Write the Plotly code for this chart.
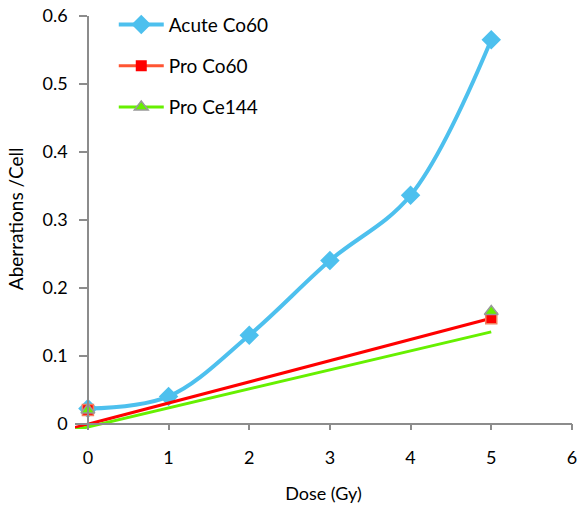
import numpy as np
import plotly.graph_objects as go

dose = [0, 1, 2, 3, 4, 5]
acute_co60 = [0.022, 0.040, 0.130, 0.240, 0.336, 0.565]

pro_dose = [0, 5]
pro_co60 = [0.020, 0.155]
pro_ce144 = [0.020, 0.165]

# linear trendlines (slope, intercept) and their extent
trend_x = [-0.16, 5]
co60_trend = (0.0312, -0.0010)
ce144_trend = (0.0280, -0.0050)

x_ticks = [0, 1, 2, 3, 4, 5, 6]
y_ticks = [0, 0.1, 0.2, 0.3, 0.4, 0.5, 0.6]
y_tick_text = ["0", "0.1", "0.2", "0.3", "0.4", "0.5", "0.6"]

BLUE = "#4DC0EE"
RED = "#FF0000"
ORANGE = "#FF5533"
GREEN = "#66F000"
FONT = "Lato"
FS = 18

X_RANGE = [-0.16, 6.001]
Y_RANGE = [-0.008, 0.6]

tx = np.array(trend_x)
fig = go.Figure()

fig.add_trace(go.Scatter(
    x=dose, y=acute_co60, mode="lines+markers", name="Acute Co60",
    line=dict(color=BLUE, width=4, shape="spline", smoothing=1.0),
    marker=dict(symbol="diamond", size=15, color=BLUE),
    legendgroup="a"))

fig.add_trace(go.Scatter(
    x=tx, y=co60_trend[0] * tx + co60_trend[1], mode="lines",
    line=dict(color=RED, width=3), showlegend=False, hoverinfo="skip"))
fig.add_trace(go.Scatter(
    x=tx, y=ce144_trend[0] * tx + ce144_trend[1], mode="lines",
    line=dict(color=GREEN, width=3), showlegend=False, hoverinfo="skip"))

fig.add_trace(go.Scatter(
    x=pro_dose, y=pro_co60, mode="markers", name="Pro Co60",
    marker=dict(symbol="square", size=11, color=RED, line=dict(color="#F08060", width=1.5)),
    showlegend=False))
fig.add_trace(go.Scatter(
    x=pro_dose, y=pro_ce144, mode="markers", name="Pro Ce144",
    marker=dict(symbol="triangle-up", size=12, color=GREEN, line=dict(color="#999999", width=1.5)),
    showlegend=False))

# legend entries
fig.add_trace(go.Scatter(
    x=[None], y=[None], mode="lines+markers", name="Pro Co60",
    line=dict(color=ORANGE, width=3),
    marker=dict(symbol="square", size=11, color=RED), legendgroup="b"))
fig.add_trace(go.Scatter(
    x=[None], y=[None], mode="lines+markers", name="Pro Ce144",
    line=dict(color=GREEN, width=3),
    marker=dict(symbol="triangle-up", size=12, color=GREEN, line=dict(color="#999999", width=1.5)),
    legendgroup="c"))

fig.update_layout(
    width=578, height=506,
    margin=dict(l=75, r=6, t=14, b=77),
    paper_bgcolor="white", plot_bgcolor="white",
    font=dict(family=FONT, size=FS, color="black"),
    showlegend=True,
    legend=dict(x=0.078, y=1.025, xanchor="left", yanchor="top",
                traceorder="grouped", tracegroupgap=13.5, itemwidth=45,
                bgcolor="rgba(0,0,0,0)", font=dict(size=19, family=FONT)),
    xaxis=dict(range=X_RANGE, tickvals=x_ticks, showgrid=False, zeroline=False,
               anchor="free", position=0.008 / 0.608, automargin=False,
               showline=True, linecolor="#8c8c8c", linewidth=1.5,
               ticks="outside", ticklen=6, tickcolor="#8c8c8c", tickwidth=1.5,
               ticklabelstandoff=12, ticklabeloverflow="allow", tickfont=dict(size=FS),
               title=dict(text="Dose (Gy)", font=dict(size=FS), standoff=19)),
    yaxis=dict(range=Y_RANGE, tickvals=y_ticks, ticktext=y_tick_text,
               showgrid=False, zeroline=False,
               anchor="free", position=13 / 497, automargin=False,
               showline=True, linecolor="#8c8c8c", linewidth=1.5,
               ticks="outside", ticklen=8, tickcolor="#8c8c8c", tickwidth=1.5,
               ticklabelstandoff=8, tickfont=dict(size=FS)),
    annotations=[dict(text="Aberrations /Cell", textangle=-90, showarrow=False,
                      xref="paper", yref="paper", x=(15 - 75) / 497, y=0.508,
                      xanchor="center", yanchor="middle",
                      font=dict(size=19, family=FONT, color="black"))],
)

fig.write_html(
    "out.html",
    config={"displayModeBar": False},
    post_script="document.body.style.margin='0';document.body.style.overflow='hidden';",
)
